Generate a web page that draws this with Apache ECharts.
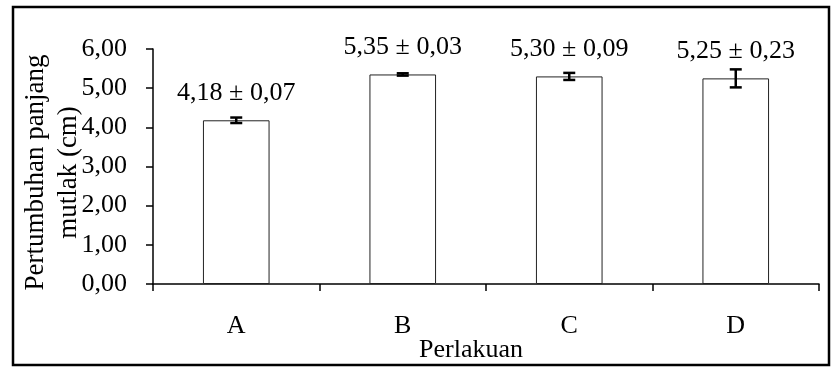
<!DOCTYPE html>
<html>
<head>
<meta charset="utf-8">
<script src="https://cdn.jsdelivr.net/npm/echarts@6/dist/echarts.min.js"></script>
<style>
html,body{margin:0;padding:0;background:#fff;}
#chart{width:831px;height:367px;}
</style>
</head>
<body>
<div id="chart"></div>
<script>
var categories = ['A', 'B', 'C', 'D'];
var means = [4.18, 5.35, 5.30, 5.25];
var sds = [0.07, 0.03, 0.09, 0.23];
var yTicks = [0, 1, 2, 3, 4, 5, 6];
var xTitle = 'Perlakuan';
var yTitle = 'Pertumbuhan panjang\nmutlak (cm)';

var FONT = '"Liberation Serif", "Times New Roman", serif';
function fmt(v) { return v.toFixed(2).replace('.', ','); }

var chart = echarts.init(document.getElementById('chart'), null, {renderer: 'canvas'});
var errData = categories.map(function (c, i) { return [i, means[i] - sds[i], means[i] + sds[i]]; });

chart.setOption({
  animation: false,
  backgroundColor: '#ffffff',
  grid: {left: 153, right: 12, top: 49, bottom: 83, containLabel: false, outerBoundsMode: 'none'},
  graphic: [{
    type: 'rect',
    shape: {x: 13, y: 7, width: 816, height: 358},
    style: {fill: 'none', stroke: '#000', lineWidth: 2.5},
    silent: true,
    z: 100
  }],
  xAxis: {
    type: 'category',
    data: categories,
    boundaryGap: true,
    name: xTitle,
    nameLocation: 'middle',
    nameGap: 53,
    nameMoveOverlap: false,
    nameTextStyle: {fontFamily: FONT, fontSize: 26, color: '#000', padding: [0, 30, 0, 0]},
    axisLine: {lineStyle: {color: '#000', width: 1.5}},
    axisTick: {show: true, alignWithLabel: false, length: 7, inside: false, lineStyle: {color: '#000', width: 1.5}},
    axisLabel: {fontFamily: FONT, fontSize: 26, color: '#000', margin: 29},
    splitLine: {show: false}
  },
  yAxis: {
    type: 'value',
    min: yTicks[0],
    max: yTicks[yTicks.length - 1],
    interval: 1,
    name: yTitle,
    nameLocation: 'middle',
    nameGap: 68,
    nameRotate: 90,
    nameMoveOverlap: false,
    nameTextStyle: {fontFamily: FONT, fontSize: 27, color: '#000', lineHeight: 33, padding: [0, 12, 0, 0]},
    axisLine: {show: true, lineStyle: {color: '#000', width: 1.5}},
    axisTick: {show: true, length: 7, inside: false, lineStyle: {color: '#000', width: 1.5}},
    axisLabel: {fontFamily: FONT, fontSize: 26, color: '#000', margin: 26, formatter: function (v) { return fmt(v); }},
    splitLine: {show: false}
  },
  series: [{
    type: 'bar',
    data: means,
    barWidth: '40%',
    itemStyle: {color: '#ffffff', borderColor: '#222', borderWidth: 1},
    label: {
      show: true,
      position: 'top',
      distance: 14,
      fontFamily: FONT,
      fontSize: 26,
      color: '#000',
      formatter: function (p) { return fmt(means[p.dataIndex]) + ' \u00b1 ' + fmt(sds[p.dataIndex]); }
    },
    z: 2
  }, {
    type: 'custom',
    data: errData,
    z: 5,
    renderItem: function (params, api) {
      var x = api.value(0);
      var lo = api.coord([x, api.value(1)]);
      var hi = api.coord([x, api.value(2)]);
      var hw = 6;
      var st = {stroke: '#000', lineWidth: 2.5};
      return {
        type: 'group',
        children: [
          {type: 'line', shape: {x1: lo[0], y1: lo[1], x2: hi[0], y2: hi[1]}, style: st},
          {type: 'line', shape: {x1: hi[0] - hw, y1: hi[1], x2: hi[0] + hw, y2: hi[1]}, style: st},
          {type: 'line', shape: {x1: lo[0] - hw, y1: lo[1], x2: lo[0] + hw, y2: lo[1]}, style: st}
        ]
      };
    }
  }]
});
</script>
</body>
</html>
